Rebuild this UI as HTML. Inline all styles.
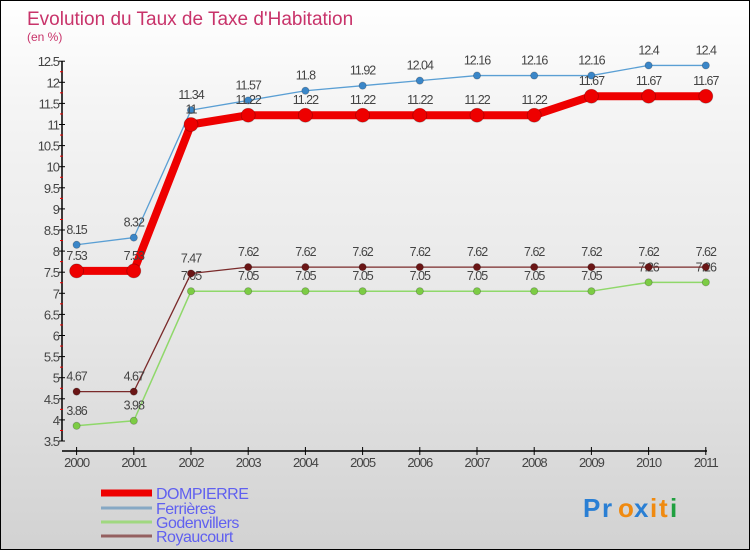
<!DOCTYPE html>
<html><head><meta charset="utf-8"><style>
body{margin:0}
#c{width:750px;height:550px;position:relative;overflow:hidden;box-sizing:border-box;border:1px solid #000;background:linear-gradient(#fff,#f4f4f4 20%,#e6e6e6 60%,#d2d2d2);font-family:"Liberation Sans",sans-serif}
</style></head><body>
<div id="c">
<svg id="s" width="750" height="550" style="position:absolute;left:0;top:0"></svg>
</div>
<script>
const years=["2000","2001","2002","2003","2004","2005","2006","2007","2008","2009","2010","2011"];
const dompierre=[7.53,7.53,11,11.22,11.22,11.22,11.22,11.22,11.22,11.67,11.67,11.67];
const ferrieres=[8.15,8.32,11.34,11.57,11.8,11.92,12.04,12.16,12.16,12.16,12.4,12.4];
const godenvillers=[3.86,3.98,7.05,7.05,7.05,7.05,7.05,7.05,7.05,7.05,7.26,7.26];
const royaucourt=[4.67,4.67,7.47,7.62,7.62,7.62,7.62,7.62,7.62,7.62,7.62,7.62];
const dompLabels=["7.53","7.53","11","11.22","11.22","11.22","11.22","11.22","11.22","11.67","11.67","11.67"];
const yTicks=[3.5,4,4.5,5,5.5,6,6.5,7,7.5,8,8.5,9,9.5,10,10.5,11,11.5,12,12.5];
const NS="http://www.w3.org/2000/svg",s=document.getElementById('s');
const X=i=>75.6+i*57.2, Y=v=>440-(v-3.5)*42.2;
function el(t,a,txt){const e=document.createElementNS(NS,t);for(const k in a)e.setAttribute(k,a[k]);if(txt!==undefined)e.textContent=txt;s.appendChild(e);return e;}
let e;
e=el('text',{x:26,y:24,fill:'#c8336a','font-size':19},'Evolution du Taux de Taxe d\'Habitation');

e=el('text',{x:26,y:40,fill:'#c8336a','font-size':12},'(en %)');

e=el('line',{x1:61,y1:60,x2:61,y2:440,stroke:'#000','stroke-width':1.5});

yTicks.forEach((v,i)=>{
 e=el('line',{x1:58,x2:64,y1:Y(v),y2:Y(v),stroke:'#000'});
 
 if(i<yTicks.length-1){e=el('line',{x1:59,x2:62,y1:Y(v+0.25),y2:Y(v+0.25),stroke:'#e00'});
 }
 e=el('text',{x:58,y:Y(v)+5,'text-anchor':'end','font-size':13,fill:'#444','letter-spacing':'-1'},String(v));
 
});
e=el('line',{x1:61,y1:450,x2:706,y2:450,stroke:'#000','stroke-width':1.5});

years.forEach((y,i)=>{
 e=el('line',{x1:X(i),x2:X(i),y1:446,y2:454,stroke:'#000'});
 
 e=el('text',{x:X(i),y:466,'text-anchor':'middle','font-size':13,fill:'#444','letter-spacing':'-1'},y);
 
});
function series(name,d,col,w,r,labels,dot){
 e=el('polyline',{points:d.map((v,i)=>X(i)+','+Y(v)).join(' '),fill:'none',stroke:col,'stroke-width':w,'stroke-linejoin':'round'});
 
 d.forEach((v,i)=>{
  e=el('circle',{cx:X(i),cy:Y(v),r:r,fill:dot||col,stroke:'rgba(0,0,0,0.25)','stroke-width':0.8});
  
  e=el('text',{x:X(i),y:Y(v)-11,'text-anchor':'middle','font-size':12.5,fill:'#444','letter-spacing':'-1'},labels?labels[i]:String(v));
  
 });
}
series('ferrieres',ferrieres,'#5a9fd4',1.3,3.6,null,'#3a86c8');
series('godenvillers',godenvillers,'#8fd86a',1.5,3.6,null,'#7ccc44');
series('royaucourt',royaucourt,'#7a2a2a',1.3,3.6,null,'#6a1515');
series('dompierre',dompierre,'#ee0000',8,7,dompLabels);
const leg=[['DOMPIERRE','#ee0000',7,497],['Ferrières','#86a8c4',3,512],['Godenvillers','#a0d880',3,526],['Royaucourt','#946060',3,540]];
leg.forEach(l=>{
 e=el('line',{x1:100,x2:151,y1:l[3]-5,y2:l[3]-5,stroke:l[1],'stroke-width':l[2]});
 
 e=el('text',{x:155,y:l[3]+1,'font-size':16,fill:'#6060f0','letter-spacing':'-0.5'},l[0]);
 
});
const logo=[['P','#2a7fd4'],['r','#2a7fd4'],['o','#f08a10'],['x','#2a7fd4'],['i','#f08a10'],['t','#f08a10'],['i','#20a040']];
let lx=582;
logo.forEach(c=>{e=el('text',{x:lx,y:516,'font-size':26,'font-weight':'bold',fill:c[1]},c[0]);
 
 lx+=(c[0]=='i'?9:c[0]=='t'?11:c[0]=='P'?19:16);});
</script>
</body></html>
